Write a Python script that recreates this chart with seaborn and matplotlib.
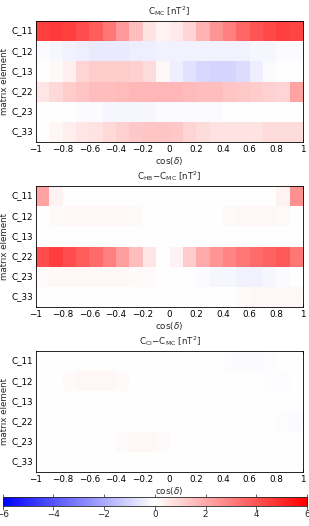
import numpy as np
import pandas as pd
import seaborn as sns
import matplotlib
matplotlib.use("Agg")
import matplotlib.pyplot as plt

sns.set_style("white")
plt.rcParams['font.family'] = ['DejaVu Sans']
plt.rcParams['mathtext.fontset'] = 'dejavusans'

elements = ["C_11", "C_12", "C_13", "C_22", "C_23", "C_33"]
cos_centers = [-0.95, -0.85, -0.75, -0.65, -0.55, -0.45, -0.35, -0.25, -0.15, -0.05,
               0.05, 0.15, 0.25, 0.35, 0.45, 0.55, 0.65, 0.75, 0.85, 0.95]
xtick_values = [-1, -0.8, -0.6, -0.4, -0.2, 0, 0.2, 0.4, 0.6, 0.8, 1]
cbar_ticks = [-6, -4, -2, 0, 2, 4, 6]

# Panel 1: C_MC
mc_11 = [4.5, 4.6, 4.5, 4.2, 3.8, 3.2, 2.4, 1.5, 0.7, 0.3, 0.5, 1.0, 1.8, 2.5, 3.0, 3.6, 4.0, 4.3, 4.5, 4.4]
mc_12 = [-0.1, -0.2, -0.3, -0.4, -0.5, -0.5, -0.5, -0.4, -0.4, -0.3, -0.3, -0.3, -0.3, -0.3, -0.3, -0.3, -0.2, -0.2, -0.1, -0.1]
mc_13 = [0.0, 0.1, 0.4, 1.0, 1.2, 1.2, 1.2, 1.1, 0.8, 0.2, -0.4, -0.7, -0.9, -1.0, -1.0, -0.8, -0.4, -0.1, 0.0, 0.0]
mc_22 = [0.6, 0.9, 1.2, 1.4, 1.5, 1.5, 1.6, 1.7, 1.7, 1.7, 1.7, 1.6, 1.5, 1.5, 1.4, 1.3, 1.2, 1.1, 1.0, 2.2]
mc_23 = [0.0, 0.0, 0.0, -0.1, -0.1, -0.2, -0.2, -0.2, -0.2, -0.1, -0.1, -0.1, -0.1, -0.1, 0.0, 0.0, 0.0, 0.0, 0.0, 0.0]
mc_33 = [0.0, 0.2, 0.4, 0.6, 0.7, 0.9, 1.1, 1.3, 1.4, 1.4, 1.3, 1.0, 0.8, 0.7, 0.7, 0.7, 0.7, 0.8, 0.8, 0.8]

# Panel 2: C_HB - C_MC
hb_11 = [2.2, 0.3, 0.0, 0.0, 0.0, 0.0, 0.0, 0.0, 0.0, 0.0, 0.0, 0.0, 0.0, 0.0, 0.0, 0.0, 0.0, 0.0, 0.3, 2.6]
hb_12 = [0.0, 0.1, 0.2, 0.2, 0.2, 0.2, 0.2, 0.1, 0.0, 0.0, 0.0, 0.0, 0.0, 0.0, 0.1, 0.2, 0.2, 0.2, 0.1, 0.0]
hb_13 = [0.0, 0.0, 0.0, 0.0, 0.0, 0.0, 0.0, 0.0, 0.0, 0.0, 0.0, 0.0, 0.0, 0.0, 0.0, 0.0, 0.0, 0.0, 0.0, 0.0]
hb_22 = [4.2, 4.5, 4.2, 3.8, 3.5, 3.0, 2.3, 1.5, 0.6, 0.0, 0.3, 1.2, 2.0, 2.5, 2.9, 3.2, 3.5, 3.7, 3.9, 3.2]
hb_23 = [0.1, 0.2, 0.2, 0.2, 0.2, 0.2, 0.2, 0.1, 0.1, 0.0, 0.0, 0.0, -0.1, -0.2, -0.2, -0.3, -0.3, -0.2, -0.1, 0.0]
hb_33 = [0.0, 0.0, 0.0, 0.0, 0.0, 0.0, 0.0, 0.0, 0.0, 0.0, 0.0, 0.0, 0.0, 0.0, 0.0, 0.1, 0.2, 0.2, 0.2, 0.2]

# Panel 3: C_CI - C_MC
ci_11 = [0.0, 0.0, 0.0, 0.0, 0.0, 0.0, 0.0, 0.0, 0.0, 0.0, 0.0, 0.0, 0.0, 0.0, -0.05, -0.1, -0.1, -0.05, 0.0, 0.0]
ci_12 = [0.0, 0.0, 0.1, 0.2, 0.2, 0.2, 0.1, 0.0, 0.0, 0.0, 0.0, 0.0, 0.0, 0.0, 0.0, 0.0, 0.0, -0.05, -0.05, 0.0]
ci_13 = [0.0, 0.0, 0.0, 0.0, 0.0, 0.0, 0.0, 0.0, 0.0, 0.0, 0.0, 0.0, 0.0, 0.0, 0.0, 0.0, 0.0, 0.0, 0.0, 0.0]
ci_22 = [0.0, 0.0, 0.0, 0.0, 0.0, 0.0, 0.0, 0.0, 0.0, 0.0, 0.0, 0.0, 0.0, 0.0, 0.0, 0.0, 0.0, 0.0, -0.05, -0.1]
ci_23 = [0.0, 0.0, 0.0, 0.0, 0.0, 0.0, 0.1, 0.2, 0.2, 0.1, 0.0, 0.0, 0.0, 0.0, 0.0, 0.0, 0.0, 0.0, 0.0, 0.0]
ci_33 = [0.0, 0.0, 0.0, 0.0, 0.0, 0.0, 0.0, 0.0, 0.0, 0.0, 0.0, 0.0, 0.0, 0.0, 0.0, 0.0, 0.0, 0.0, 0.0, 0.0]

titles = [r'C$_{\rm MC}$ [nT$^2$]',
          r'C$_{\rm HB}$$-$C$_{\rm MC}$ [nT$^2$]',
          r'C$_{\rm CI}$$-$C$_{\rm MC}$ [nT$^2$]']
panels = [
    [mc_11, mc_12, mc_13, mc_22, mc_23, mc_33],
    [hb_11, hb_12, hb_13, hb_22, hb_23, hb_33],
    [ci_11, ci_12, ci_13, ci_22, ci_23, ci_33],
]

W, H = 309, 526
fig = plt.figure(figsize=(W / 100, H / 100), dpi=100)
fs = 6.3

rects = [(36, 21, 303, 142), (36, 186, 303, 307), (36, 351, 303, 472)]
nb = len(cos_centers)
mesh = None
for (x0, y0, x1, y1), rows, title in zip(rects, panels, titles):
    ax = fig.add_axes([x0 / W, 1 - y1 / H, (x1 - x0) / W, (y1 - y0) / H])
    df = pd.DataFrame(rows, index=elements, columns=cos_centers)
    sns.heatmap(df, ax=ax, cmap='bwr', vmin=-6, vmax=6, cbar=False,
                linewidths=0, rasterized=True)
    mesh = ax.collections[0]
    for s in ax.spines.values():
        s.set_visible(True)
        s.set_color('black')
        s.set_linewidth(0.6)
    ax.set_xticks([(v + 1) / 2 * nb for v in xtick_values])
    ax.set_xticklabels([('%g' % v).replace('-', '\u2212') for v in xtick_values],
                       rotation=0, fontsize=fs)
    ax.set_yticks(np.arange(len(elements)) + 0.5)
    ax.set_yticklabels(elements, rotation=0, fontsize=fs)
    ax.tick_params(direction='in', length=2.5, width=0.5, top=True, right=True,
                   bottom=True, left=True, pad=2, colors='black')
    ax.set_xlabel(r'cos($\delta$)', fontsize=fs)
    ax.xaxis.set_label_coords(0.5, -0.105)
    ax.set_ylabel('matrix element', fontsize=fs, labelpad=2)
    ax.set_title(title, fontsize=fs, pad=5)

cax = fig.add_axes([2.5 / W, 1 - 506 / H, 304.5 / W, 9 / H])
cb = fig.colorbar(mesh, cax=cax, orientation='horizontal', ticks=cbar_ticks)
cb.ax.set_xticklabels([('%g' % v).replace('-', '\u2212') for v in cbar_ticks], fontsize=fs)
cb.ax.tick_params(direction='in', length=9, width=0.5, pad=3, top=True, bottom=True)
cb.outline.set_linewidth(0.6)

fig.savefig('out.png', dpi=100)
